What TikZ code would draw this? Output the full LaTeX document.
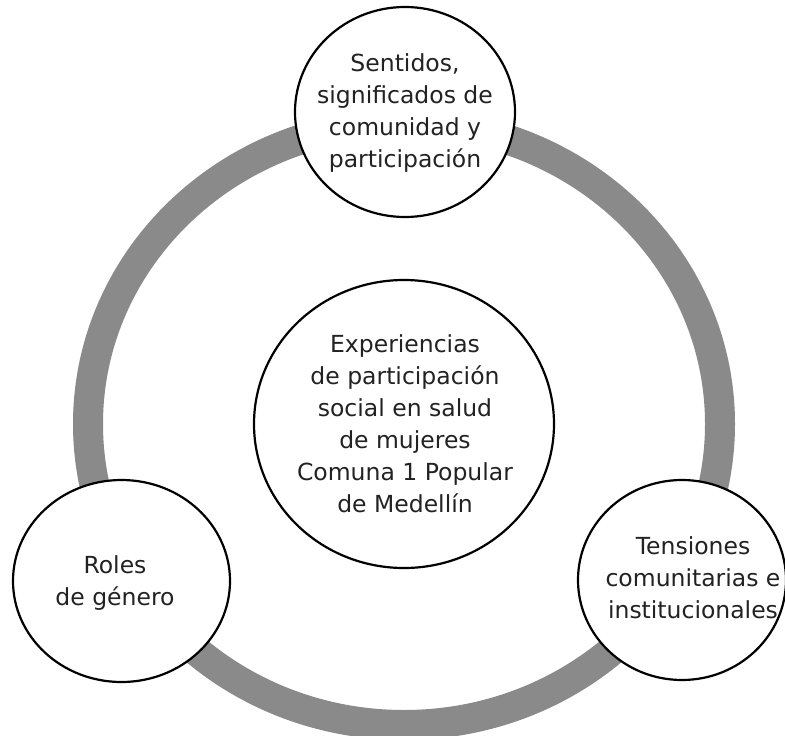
\documentclass[tikz,border=0pt]{standalone}
\usepackage{fontspec}
\setmainfont{DejaVu Sans}
\usetikzlibrary{shapes.geometric}
\definecolor{ringgray}{RGB}{138,138,138}
\definecolor{txtcol}{RGB}{34,34,34}
\tikzset{
  ringline/.style={draw=ringgray, line width=30pt},
  blob/.style={ellipse, draw=black, fill=white, line width=2.2pt, inner sep=0pt},
  lbl/.style={align=center, text=txtcol, inner sep=0pt, font=\fontsize{23.5}{32}\selectfont}
}
\begin{document}
\begin{tikzpicture}[x=1pt,y=-1pt]
\useasboundingbox (0,0) rectangle (785,736);
\fill[white] (0,0) rectangle (785,736);
\coordinate (ringc) at (404,424);
\draw[ringline] (ringc) ellipse [x radius=316pt, y radius=301pt];
\node[blob, minimum width=300pt, minimum height=288pt] (center) at (404,424) {};
\node[blob, minimum width=220pt, minimum height=210pt] (top) at (405,112) {};
\node[blob, minimum width=217pt, minimum height=202pt] (left) at (121.5,581) {};
\node[blob, minimum width=208pt, minimum height=200pt] (right) at (682,580) {};
\node[lbl] (centertext) at (405,424) {Experiencias\\de participación\\social en salud\\de mujeres\\Comuna 1 Popular\\de Medellín};
\node[lbl] (toptext) at (405,113) {Sentidos,\\significados de\\comunidad y\\participación};
\node[lbl] (lefttext) at (115,583) {Roles\\de género};
\node[lbl] (righttext) at (693,578) {Tensiones\\comunitarias e\\institucionales};
\end{tikzpicture}
\end{document}
